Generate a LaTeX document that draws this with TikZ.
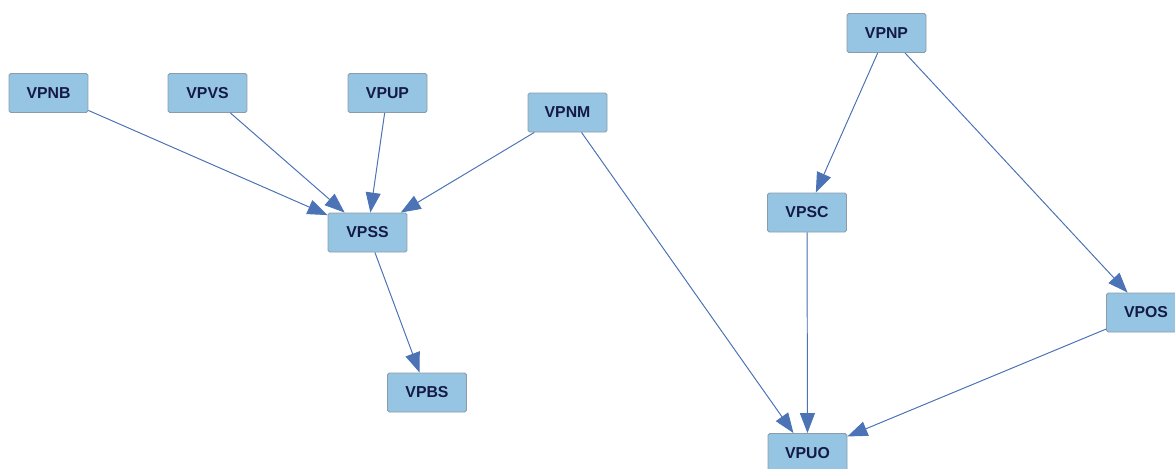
\documentclass[tikz,border=0pt]{standalone}
\usepackage{fontspec}
\setmainfont{Liberation Sans}
\usetikzlibrary{arrows.meta}
\definecolor{boxfill}{HTML}{95C5E2}
\definecolor{boxline}{HTML}{8A9CAA}
\definecolor{edgeblue}{HTML}{4C73B6}
\definecolor{labelnavy}{HTML}{141A45}
\begin{document}
\begin{tikzpicture}[
    x=0.02cm, y=-0.02cm,
    box/.style={rectangle, draw=boxline, line width=0.5pt, rounded corners=1pt, fill=boxfill,
        minimum width=1.58cm, minimum height=0.78cm, inner sep=0pt,
        text=labelnavy, font=\fontsize{9}{10}\selectfont\bfseries},
    arrow/.style={-{Triangle[length=0.4cm,width=0.3cm]}, draw=edgeblue, fill=edgeblue, line width=0.55pt}
]
\useasboundingbox (0,0) rectangle (1175,468);
\clip (0,0) rectangle (1175,468);
\node[box] (vpnb) at (48.5,93) {VPNB};
\node[box] (vpvs) at (207.5,93) {VPVS};
\node[box] (vpup) at (387.5,93) {VPUP};
\node[box] (vpnm) at (567.5,112.5) {VPNM};
\node[box] (vpss) at (367.5,232.5) {VPSS};
\node[box] (vpbs) at (427,392.5) {VPBS};
\node[box] (vpnp) at (886.5,33) {VPNP};
\node[box] (vpsc) at (807,212.5) {VPSC};
\node[box] (vpos) at (1146,312.5) {VPOS};
\node[box] (vpuo) at (807.5,453) {VPUO};

\draw[arrow] (vpnb) -- (vpss);
\draw[arrow] (vpvs) -- (vpss);
\draw[arrow] (vpup) -- (vpss);
\draw[arrow] (vpnm) -- (vpss);
\draw[arrow] (vpss) -- (vpbs);
\draw[arrow] (vpnm) -- (vpuo);
\draw[arrow] (vpnp) -- (vpsc);
\draw[arrow] (vpnp) -- (vpos);
\draw[arrow] (vpsc) -- (vpuo);
\draw[arrow] (vpos) -- (vpuo);
\end{tikzpicture}
\end{document}
